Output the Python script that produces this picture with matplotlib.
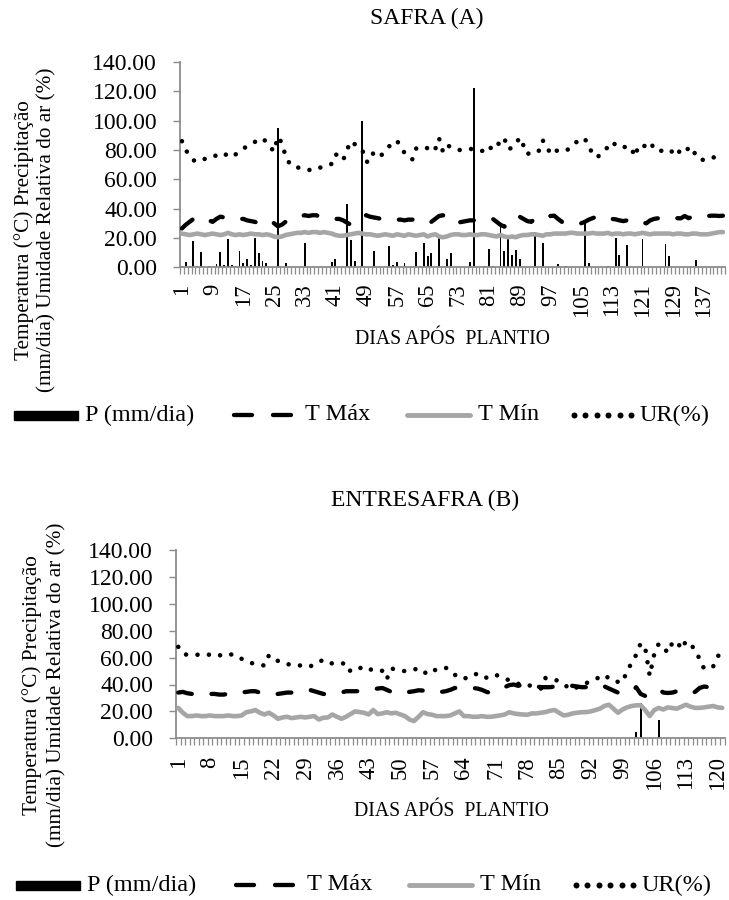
import numpy as np
import matplotlib
matplotlib.use("Agg")
import matplotlib.pyplot as plt
from matplotlib.patches import Rectangle
from matplotlib.ticker import FormatStrFormatter

plt.rcParams['font.family'] = ['Liberation Serif', 'DejaVu Serif']

# ---------------- SAFRA (A) ----------------
tmax_a = [26.5, 29, 31, 33, 34.5, 34, 33, 32, 31, 33,
          34.5, 34, 34.5, 34, 33.5, 33, 33, 32, 31.5, 31,
          30, 30.5, 31.5, 32, 30, 28, 29, 31, 32.5, 34,
          34.5, 35, 35.5, 35, 35.5, 35.5, 34.5, 34, 33.5, 33.5,
          33, 33, 32, 30.5, 29, 30.5, 32.5, 34.5, 35.5, 34.5,
          34, 33.5, 33, 33.5, 33, 33, 32.5, 32.5, 32, 32.5,
          32.5, 32.5, 32, 31, 30, 31, 33, 35, 35.5, 34,
          32.5, 30, 30.5, 31, 31.5, 32, 32, 32.5, 33, 33,
          33.5, 33, 31, 29, 27.7, 30, 33, 35, 34.5, 33,
          31.5, 31, 33, 35, 35.5, 35, 35, 35.2, 33, 31,
          31.5, 32, 31.5, 30.5, 30, 31, 32.5, 33.5, 34.5, 35.2,
          34.5, 33.5, 33, 32.7, 32, 31.5, 32, 32.7, 32.5, 31.5,
          30.5, 30, 32, 33, 33.4, 33.4, 33, 33.5, 34, 33.5,
          33.4, 35, 33.5, 34.5, 34, 34, 34.5, 35, 35.2, 35.2, 35, 35.2]
tmin_a = [23, 22.5, 22, 22.5, 23, 22.5, 22, 22.5, 23, 22.5,
          22, 22.5, 23.5, 22.5, 22, 22.5, 22, 22.5, 23, 22.5,
          22.5, 22, 22.5, 22, 21, 20.5, 21, 22, 22.5, 23,
          23.5, 23.5, 24, 23.5, 24, 24, 23.5, 24, 23.5, 23,
          22, 21.5, 21.5, 22, 22.5, 23, 23.5, 23, 22.5, 22.5,
          22, 21.5, 22, 22.5, 22, 21.5, 22.5, 22, 21.5, 22.5,
          22, 21.5, 22, 22.5, 21, 22, 22.5, 21, 20.5, 21,
          22, 22.5, 22.5, 22, 22, 22.5, 22, 22, 22.5, 22.5,
          22, 21.5, 21, 22, 21, 20.5, 21, 20.5, 21.5, 22,
          22, 22.5, 22.5, 22, 21.5, 22.5, 22.5, 23, 23, 23,
          23, 23.5, 23.5, 23, 23, 23, 23, 23.5, 23, 23,
          23, 23.5, 22.5, 23, 23, 22.5, 23, 23, 22.5, 23,
          23.5, 23, 22.5, 23, 23, 23, 23, 23, 22.5, 23,
          23, 22.5, 22.5, 23, 23, 22.5, 22.5, 22.5, 23, 23.5, 24, 24]
ur_a = [86, 80, 76, 73, 72, 72.5, 74, 75, 75, 76.5,
        78, 77.5, 76, 75, 77, 79, 81, 82.5, 84, 85.5,
        87, 88, 85.5, 82, 79, 89, 85, 76, 71, 68.5,
        68, 68, 67.5, 66.5, 66, 67, 68, 68.5, 69.5, 70.5,
        77, 76, 73, 80, 86, 84, 82.5, 80, 72, 72,
        79, 78.5, 76.5, 80, 82.5, 84.5, 86.5, 82, 78, 75.5,
        73.5, 81, 80.5, 80, 81.5, 83, 80.5, 88, 79, 83.5,
        82, 80.5, 80, 80, 80, 80.5, 81, 80, 79.5, 79,
        78.5, 85, 84.5, 84, 88, 80.5, 81.5, 84, 88.5, 83,
        77, 79, 80, 79.5, 86.5, 83.5, 77, 78.5, 80, 80,
        79.5, 81, 83, 86, 88, 87.5, 83, 77, 75, 76.5,
        79.5, 82, 85.5, 83.5, 81.5, 82, 82, 82, 75.5, 83,
        82, 83.5, 85.5, 81, 79, 79.5, 80, 80.5, 78, 76,
        81, 79.5, 81, 82, 75, 74, 73, 73.5, 74.5, 75.3]
p_a_days = [1, 2, 3, 4, 5, 6, 8, 10, 11, 12, 13, 14, 15, 16, 17, 18, 19, 20, 21, 22,
            23, 26, 28, 33, 40, 41, 44, 45, 46, 48, 51, 53, 55, 56, 57, 59, 62, 63, 64, 65,
            66, 68, 70, 71, 76, 77, 80, 81, 82, 84, 85, 86, 87, 88, 89, 93, 95, 99, 101, 106,
            107, 112, 114, 115, 117, 121, 127, 128, 135]
p_a_vals = [1, 3.4, 1, 18, 1, 10.7, 1, 2, 10.7, 1.5, 19, 1.5, 1, 11.3, 2.7, 6, 1.5, 19.7, 9.5, 4.5,
            2.7, 95, 2.7, 16.3, 3.9, 5.7, 43, 18.6, 4.5, 100, 11, 0.5, 14.5, 1.5, 3.4, 2.7, 10.7, 1, 16.3, 8,
            9.5, 19.7, 6, 9.5, 3.4, 122, 1, 12.3, 1, 28.8, 11, 19.3, 8.4, 11.8, 6, 24.3, 16.3, 2, 1, 32,
            2.7, 1, 19.7, 8.4, 15.2, 19.3, 15.9, 8, 5]
xt_a = [1, 9, 17, 25, 33, 41, 49, 57, 65, 73, 81, 89, 97, 105, 113, 121, 129, 137]

# ---------------- ENTRESAFRA (B) ----------------
tmax_b = [34, 34.5, 33.5, 33, 32.5, 32.5, 33, 33, 33, 32.5,
          32.5, 33, 34, 34.5, 34, 34.5, 35, 35, 34, 33,
          32.5, 32.5, 33, 33.5, 34, 34, 35, 35.5, 35.5, 36,
          35, 34, 33, 32.5, 33, 33.5, 34, 35, 35, 35,
          35, 35.5, 36, 36.5, 37, 37.4, 36, 34.5, 33.5, 33,
          34, 34.5, 35, 35.7, 35.5, 35, 34, 33.7, 34.5, 35,
          36, 37.4, 37.5, 38, 37.5, 37.4, 37, 36, 34.5, 33.7,
          34.5, 36, 38, 39.5, 40, 39, 40, 39, 38.5, 38.6,
          38, 38, 38, 38.5, 39, 38.5, 39.4, 39, 38.5, 38,
          38, 37.5, 39, 38.5, 38.6, 37, 35.5, 34, 33.7, 34,
          34.5, 38, 33, 31.5, 33, 35.4, 36.5, 34, 33.7, 34,
          35, 34, 33.7, 33, 34.5, 37.4, 38.5, 38, 37, 36, 36]
tmin_b = [22.6, 19, 16.5, 16.5, 17, 16.5, 16.5, 17, 16.5, 16.5,
          16.5, 17, 16.5, 16.5, 17, 19.4, 20, 21, 19, 17.7,
          19, 17, 14.5, 15.5, 16, 15, 15.5, 16, 15.5, 16,
          16.5, 14, 15.3, 15.5, 17.7, 16, 14.5, 16, 18, 20,
          19.5, 19, 17.7, 21, 18, 18.5, 19.4, 18.5, 19, 17.7,
          16.5, 14, 12.8, 16, 19.4, 18, 17.5, 16.5, 16.5, 16.5,
          17, 18.5, 20, 16.5, 16.5, 16, 16, 16.5, 16, 16,
          16.5, 17, 17.7, 19.4, 18.5, 18, 17.7, 17.5, 18.5, 18.5,
          19, 19.5, 20.5, 21, 19, 17, 17.5, 18.5, 19, 19.4,
          19.5, 20, 21, 22, 24, 25, 22, 19, 21.4, 23,
          24, 24.5, 24.6, 21, 16.5, 21, 22.6, 21.4, 23, 22.5,
          22, 23.5, 25, 23.5, 22.6, 22.6, 23, 23.5, 24, 23, 22.6]
ur_b = [68, 63, 62, 62, 62, 62.5, 62.7, 62, 61, 61.5,
        62.5, 63, 62, 61.5, 59, 57, 56, 55.4, 55, 54,
        61.8, 59.5, 57.5, 56, 55, 55, 55, 54, 53, 53.5,
        54.5, 56.5, 58.5, 57, 55.5, 55, 55.5, 55.9, 49.7, 50.5,
        52, 53.5, 52, 50.2, 50, 50.2, 44, 52, 51, 50.2,
        50, 50.2, 51, 52.2, 50, 47.5, 49.5, 51.4, 52, 52.5,
        50, 47.2, 45.5, 44, 46, 47.7, 47.7, 47.7, 45, 45.5,
        47.2, 46, 44.8, 43, 41.5, 40.5, 40, 39.5, 39, 38,
        37, 44.8, 44.5, 44, 42, 40, 38, 36.2, 38, 39.4,
        41, 42.5, 44, 45.5, 47.2, 44.5, 42.3, 42, 41.6, 50,
        56, 62, 70.6, 67.4, 46.5, 62.5, 70.4, 67.5, 63.7, 71,
        72.3, 66.2, 72.3, 70, 65.7, 59, 51.7, 53, 53.4, 60.3, 68.2]
p_b_days = [102, 103, 107, 114, 116]
p_b_vals = [4.7, 26.3, 13.5, 0.5, 0.5]
xt_b = [1, 8, 15, 22, 29, 36, 43, 50, 57, 64, 71, 78, 85, 92, 99, 106, 113, 120]

yticks = [0, 20, 40, 60, 80, 100, 120, 140]

GRAY_AX = '#8c8c8c'
GRAY_TMIN = '#a6a6a6'
W, H = 729, 900

fig = plt.figure(figsize=(W / 100, H / 100), dpi=100)

# overlay in pixel coordinates for titles, labels, legends
ov = fig.add_axes([0, 0, 1, 1])
ov.set_xlim(0, W)
ov.set_ylim(H, 0)
ov.axis('off')


def make_axes(rect_px, n_days, tmax, tmin, ur, p_days, p_vals, xt, xpad):
    l, r, t, b = rect_px
    ax = fig.add_axes([l / W, 1 - b / H, (r - l) / W, (b - t) / H])
    days = np.arange(1, n_days + 1)
    ax.bar(p_days, p_vals, width=0.5, color='black', zorder=2)
    ax.plot(days[:len(tmax)], tmax, color='black', lw=3.1,
            linestyle=(0, (3.2, 4.6)), dash_capstyle='round',
            dash_joinstyle='round', zorder=3)
    ax.plot(days[:len(tmin)], tmin, color=GRAY_TMIN, lw=3.3,
            solid_capstyle='round', solid_joinstyle='round', zorder=4)
    ax.plot(days[:len(ur)], ur, color='black', lw=3.3,
            linestyle=(0, (0.01, 2.5)), dash_capstyle='round',
            dash_joinstyle='round', zorder=5)
    ax.set_xlim(0.5, n_days + 0.5)
    ax.set_ylim(0, 140)
    ax.set_yticks(yticks)
    ax.yaxis.set_major_formatter(FormatStrFormatter('%.2f'))
    ax.set_xticks(xt)
    ax.set_xticklabels([str(v) for v in xt], rotation=90)
    ax.set_xticks(np.arange(0.5, n_days + 1, 1), minor=True)
    ax.tick_params(axis='x', which='major', length=0, pad=xpad, labelsize=16.3)
    ax.tick_params(axis='x', which='minor', length=4.8, width=0.9, color=GRAY_AX)
    ax.tick_params(axis='y', which='major', length=5, width=1.0, color=GRAY_AX,
                   pad=11.5, labelsize=17)
    for s in ('top', 'right'):
        ax.spines[s].set_visible(False)
    for s in ('left', 'bottom'):
        ax.spines[s].set_color(GRAY_AX)
        ax.spines[s].set_linewidth(1.3)
    ax.patch.set_alpha(0)
    return ax


make_axes((180, 725, 62, 267.3), 142, tmax_a, tmin_a, ur_a, p_a_days, p_a_vals, xt_a, 11.5)
make_axes((176, 724.5, 550, 738.3), 121, tmax_b, tmin_b, ur_b, p_b_days, p_b_vals, xt_b, 13)

# titles, axis labels
ov.text(427, 18, 'SAFRA (A)', ha='center', va='center', fontsize=17)
ov.text(425, 500, 'ENTRESAFRA (B)', ha='center', va='center', fontsize=17)
ov.text(452, 340, 'DIAS APÓS  PLANTIO', ha='center', va='center', fontsize=14.2)
ov.text(451, 812, 'DIAS APÓS  PLANTIO', ha='center', va='center', fontsize=14.2)
for (x1, x2, yc) in [(24, 47, 230), (32, 57, 685)]:
    ov.text(x1, yc, 'Temperatura (°C) Precipitação', rotation=90,
            ha='center', va='center', fontsize=15.3)
    ov.text(x2, yc, '(mm/dia) Umidade Relativa do ar (%)', rotation=90,
            ha='center', va='center', fontsize=15.3)


def legend(y, dx):
    ov.add_patch(Rectangle((14 + dx, y - 4.5), 64, 9, color='black'))
    ov.text(85 + dx, y, 'P (mm/dia)', ha='left', va='center', fontsize=17.5)
    ov.plot([234 + dx, 252 + dx], [y, y], color='black', lw=3.1, solid_capstyle='round')
    ov.plot([273 + dx, 291 + dx], [y, y], color='black', lw=3.1, solid_capstyle='round')
    ov.text(305 + dx, y, 'T Máx', ha='left', va='center', fontsize=17.5)
    ov.plot([407 + dx, 470 + dx], [y, y], color=GRAY_TMIN, lw=3.5, solid_capstyle='round')
    ov.text(478 + dx, y, 'T Mín', ha='left', va='center', fontsize=17.5)
    ov.plot([574 + dx + 11.4 * k for k in range(6)], [y] * 6, 'o', ms=4.3,
            color='black', mew=0)
    ov.text(640 + dx, y, 'UR(%)', ha='left', va='center', fontsize=17.5)


legend(415, 0)
legend(885, 2)

fig.savefig('out.png', dpi=100)
